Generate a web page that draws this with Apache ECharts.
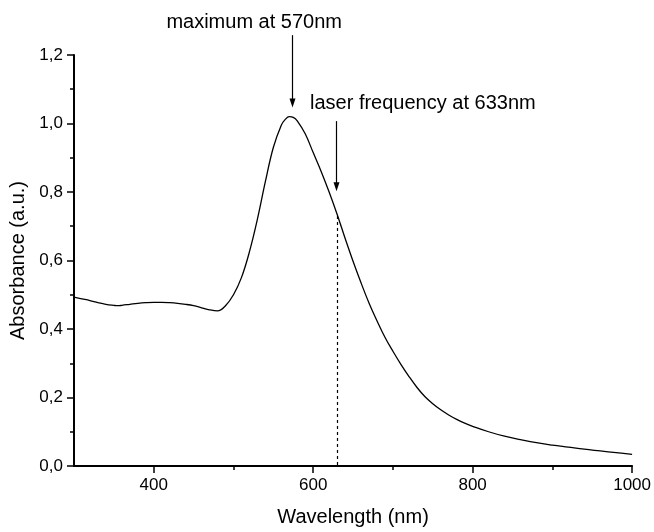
<!DOCTYPE html>
<html>
<head>
<meta charset="utf-8">
<script src="https://cdn.jsdelivr.net/npm/echarts@6/dist/echarts.min.js"></script>
<style>html,body{margin:0;padding:0;background:#fff}#c{width:654px;height:532px}</style>
</head>
<body>
<div id="c"></div>
<script>
// Wavelength (nm)
const wavelength = [300,310,320,330,340,350,355,360,370,380,390,400,410,420,430,440,450,460,470,480,490,500,510,520,530,540,550,560,565,570,575,580,590,600,610,620,630,640,650,660,670,680,690,700,710,720,730,740,750,760,770,780,790,800,820,840,860,880,900,920,940,960,980,1000];
// Absorbance (a.u.)
const absorbance = [0.493,0.488,0.483,0.477,0.472,0.469,0.468,0.469,0.472,0.475,0.477,0.478,0.478,0.477,0.475,0.472,0.468,0.462,0.456,0.453,0.468,0.500,0.550,0.625,0.720,0.830,0.930,0.995,1.012,1.020,1.018,1.008,0.970,0.915,0.860,0.800,0.735,0.665,0.598,0.535,0.476,0.424,0.376,0.335,0.297,0.262,0.230,0.203,0.182,0.164,0.149,0.136,0.125,0.116,0.100,0.087,0.077,0.068,0.061,0.055,0.049,0.044,0.039,0.034];
const xMajorTicks = [400,600,800,1000];
const xMinorTicks = [500,700,900];
// annotations: arrows [x, yStart, yEnd]
const arrows = [[573.5,1.258,1.047],[628.5,1.007,0.802]];
const dottedLine = [630,0.73,0];
const annoTexts = [
  {text:'maximum at 570nm', x:526, y:1.295, align:'center'},
  {text:'laser frequency at 633nm', x:596, y:1.059, align:'left'}
];

const chart = echarts.init(document.getElementById('c'));
const font = 'Liberation Sans, Arial, sans-serif';
const data = wavelength.map((w,i)=>[w,absorbance[i]]);
const markData = [[{coord:[dottedLine[0],dottedLine[1]]},{coord:[dottedLine[0],dottedLine[2]]}]];

chart.setOption({
  animation:false,
  grid:{left:74,right:19,top:55,bottom:61},
  xAxis:[{
    type:'value',min:300,max:1000,
    name:'Wavelength (nm)',nameLocation:'middle',nameGap:41,
    nameTextStyle:{fontFamily:font,fontSize:20,color:'#000'},
    axisLine:{show:true,lineStyle:{color:'#000',width:2}},
    axisTick:{show:true,inside:false,length:7,lineStyle:{color:'#000',width:1.5},customValues:xMajorTicks},
    axisLabel:{show:true,color:'#000',fontFamily:font,fontSize:17,margin:11,customValues:xMajorTicks,formatter:v=>String(v)},
    splitLine:{show:false}
  },{
    type:'value',min:300,max:1000,position:'bottom',gridIndex:0,
    axisLine:{show:false},
    axisTick:{show:true,length:4,lineStyle:{color:'#000',width:1.5},customValues:xMinorTicks},
    axisLabel:{show:false},
    splitLine:{show:false}
  }],
  yAxis:{
    type:'value',min:0,max:1.2,interval:0.2,
    name:'Absorbance (a.u.)',nameLocation:'middle',nameGap:46,
    nameTextStyle:{fontFamily:font,fontSize:20,color:'#000'},
    axisLine:{show:true,lineStyle:{color:'#000',width:2}},
    axisTick:{show:true,length:7,lineStyle:{color:'#000',width:1.5}},
    minorTick:{show:true,splitNumber:2,length:4,lineStyle:{color:'#000',width:1.5}},
    axisLabel:{color:'#000',fontFamily:font,fontSize:17,margin:11,formatter:v=>v.toFixed(1).replace('.',',')},
    splitLine:{show:false}
  },
  series:[{
    type:'line',data:data,showSymbol:false,smooth:0.4,
    lineStyle:{color:'#000',width:1.3},
    clip:false,
    markLine:{
      silent:true,symbol:['none','none'],animation:false,
      lineStyle:{color:'#000',width:1.2,type:[3,3]},
      label:{show:false},
      data:markData
    }
  }]
});

const g = [];
annoTexts.forEach(t=>{
  const p = chart.convertToPixel({gridIndex:0},[t.x,t.y]);
  g.push({type:'text',x:p[0],y:p[1],style:{text:t.text,fontFamily:font,fontSize:20,fill:'#000',textAlign:t.align,textVerticalAlign:'middle'}});
});
arrows.forEach(a=>{
  const p1 = chart.convertToPixel({gridIndex:0},[a[0],a[1]]);
  const p2 = chart.convertToPixel({gridIndex:0},[a[0],a[2]]);
  const x = Math.round(p1[0])+0.5;
  g.push({type:'line',shape:{x1:x,y1:p1[1],x2:x,y2:p2[1]-6},style:{stroke:'#000',lineWidth:1.2}});
  g.push({type:'polygon',shape:{points:[[x-3,p2[1]-9],[x+3,p2[1]-9],[x,p2[1]]]},style:{fill:'#000'}});
});
chart.setOption({graphic:g});
</script>
</body>
</html>
